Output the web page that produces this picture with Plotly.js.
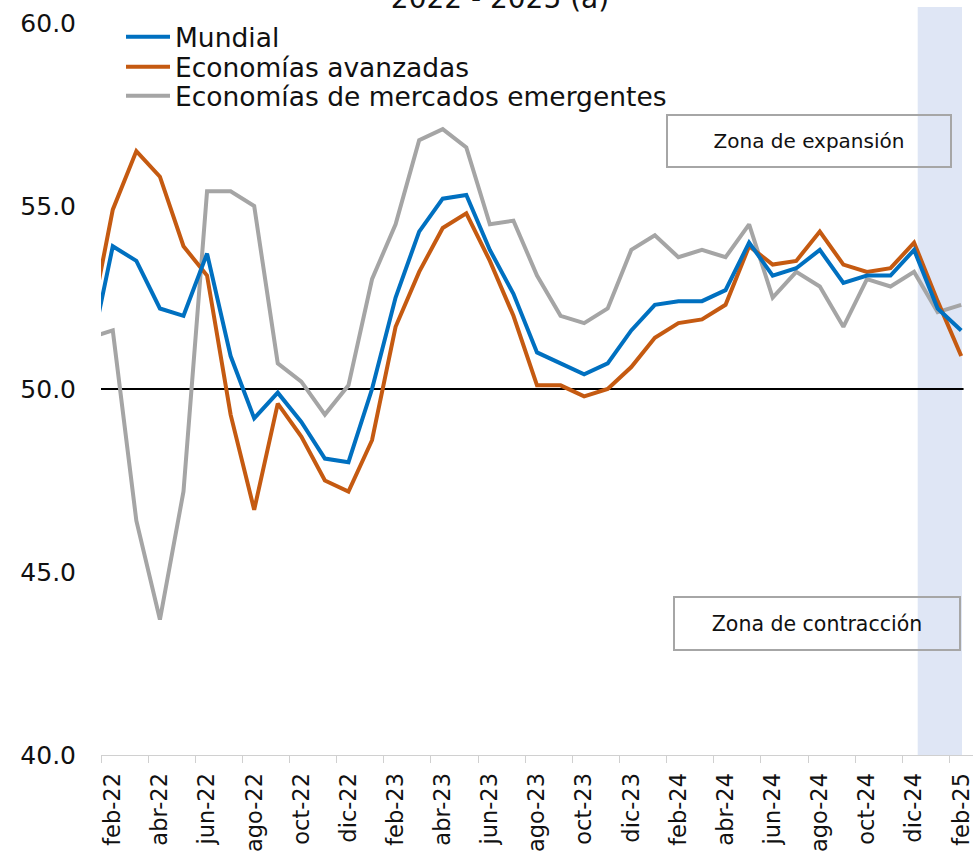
<!DOCTYPE html>
<html>
<head>
<meta charset="utf-8">
<script src="https://cdn.plot.ly/plotly-3.0.1.min.js"></script>
<style>html,body{margin:0;padding:0;background:#fff;}#chart{width:973px;height:855px;}</style>
</head>
<body>
<div id="chart"></div>
<script>
const months = ['ene-22','feb-22','mar-22','abr-22','may-22','jun-22','jul-22','ago-22','sep-22','oct-22','nov-22','dic-22',
  'ene-23','feb-23','mar-23','abr-23','may-23','jun-23','jul-23','ago-23','sep-23','oct-23','nov-23','dic-23',
  'ene-24','feb-24','mar-24','abr-24','may-24','jun-24','jul-24','ago-24','sep-24','oct-24','nov-24','dic-24',
  'ene-25','feb-25'];
const mundial = [50.8,53.9,53.5,52.2,52.0,53.7,50.9,49.2,49.9,49.1,48.1,48.0,
  50.0,52.5,54.3,55.2,55.3,53.8,52.6,51.0,50.7,50.4,50.7,51.6,
  52.3,52.4,52.4,52.7,54.0,53.1,53.3,53.8,52.9,53.1,53.1,53.8,
  52.2,51.6];
const avanzadas = [51.6,54.9,56.5,55.8,53.9,53.1,49.3,46.7,49.6,48.7,47.5,47.2,
  48.6,51.7,53.2,54.4,54.8,53.5,52.0,50.1,50.1,49.8,50.0,50.6,
  51.4,51.8,51.9,52.3,53.9,53.4,53.5,54.3,53.4,53.2,53.3,54.0,
  52.4,50.9];
const emergentes = [51.4,51.6,46.4,43.7,47.2,55.4,55.4,55.0,50.7,50.2,49.3,50.1,
  53.0,54.5,56.8,57.1,56.6,54.5,54.6,53.1,52.0,51.8,52.2,53.8,
  54.2,53.6,53.8,53.6,54.5,52.5,53.2,52.8,51.7,53.0,52.8,53.2,
  52.1,52.3];
const seriesNames = ['Mundial','Economías avanzadas','Economías de mercados emergentes'];
const yTicks = [40,45,50,55,60];
const titleText = '2022 - 2025 (a)';
const zoneLabels = ['Zona de expansión','Zona de contracción'];
const threshold = 50;

const FONT = 'DejaVu Sans, Liberation Sans, Arial, sans-serif';
const colors = ['#0070c0','#c55a11','#a5a5a5'];
const legendIds = ['legend','legend2','legend3'];
const seriesData = [mundial, avanzadas, emergentes];

const traces = seriesData.map((vals, i) => ({
  type: 'scatter', mode: 'lines', x: months, y: vals, name: seriesNames[i],
  line: {color: colors[i], width: 4}, legend: legendIds[i], hoverinfo: 'x+y+name'
}));
// draw gray underneath others
const ordered = [traces[2], traces[1], traces[0]];

const PL = 101, PT = 23, PW = 872, PH = 732;
function px2x(px) { return (px - PL) / PW; }
function py2y(py) { return 1 - (py - PT) / PH; }

function legendAt(py) {
  return {x: px2x(121), y: py2y(py), xref: 'paper', yref: 'paper', xanchor: 'left', yanchor: 'middle',
    bgcolor: 'rgba(0,0,0,0)', borderwidth: 0, itemwidth: 44,
    font: {family: FONT, size: 26.5, color: '#111'}};
}

const layout = {
  width: 973, height: 855,
  margin: {l: PL, r: 0, t: PT, b: 100, autoexpand: false},
  paper_bgcolor: '#ffffff', plot_bgcolor: 'rgba(0,0,0,0)',
  title: {text: titleText, font: {family: FONT, size: 28, color: '#111'},
    x: 500/973, xanchor: 'center', xref: 'container', y: 1 - 8/855, yanchor: 'bottom', yref: 'container'},
  showlegend: true,
  legend: legendAt(37), legend2: legendAt(67), legend3: legendAt(96),
  xaxis: {type: 'category', range: [0.5, 37.5], tickmode: 'linear', tick0: 1, dtick: 2,
    tickson: 'boundaries', ticks: 'outside', ticklen: 7, tickwidth: 1, tickcolor: '#d0d0d0',
    showline: true, linecolor: '#d0d0d0', linewidth: 1, showgrid: false, zeroline: false,
    tickangle: -90, ticklabelstandoff: 8,
    tickfont: {family: FONT, size: 22.5, color: '#111'}},
  yaxis: {range: [40, 60], tickmode: 'array', tickvals: yTicks, tickformat: '.1f',
    showgrid: false, zeroline: false, showline: false, ticks: '', ticklabelstandoff: 24,
    tickfont: {family: FONT, size: 25, color: '#111'}},
  shapes: [
    {type: 'rect', xref: 'paper', yref: 'paper', x0: px2x(917.7), x1: px2x(962), y0: 0, y1: py2y(7),
      fillcolor: '#dfe6f5', line: {width: 0}, layer: 'below'},
    {type: 'line', xref: 'x', yref: 'y', x0: 0.5, x1: 37.1, y0: threshold, y1: threshold,
      line: {color: '#000', width: 2}, layer: 'below'}
  ],
  annotations: [
    {text: zoneLabels[0], xref: 'paper', yref: 'paper', x: px2x(809), y: py2y(141),
      xanchor: 'center', yanchor: 'middle', showarrow: false, width: 282, height: 50, borderpad: 0,
      bordercolor: '#a6a6a6', borderwidth: 2, font: {family: FONT, size: 20, color: '#111'}},
    {text: zoneLabels[1], xref: 'paper', yref: 'paper', x: px2x(817), y: py2y(623.5),
      xanchor: 'center', yanchor: 'middle', showarrow: false, width: 284, height: 51, borderpad: 0,
      bordercolor: '#a6a6a6', borderwidth: 2, font: {family: FONT, size: 20.5, color: '#111'}}
  ]
};

Plotly.newPlot('chart', ordered, layout, {displayModeBar: false, responsive: false});
</script>
</body>
</html>
